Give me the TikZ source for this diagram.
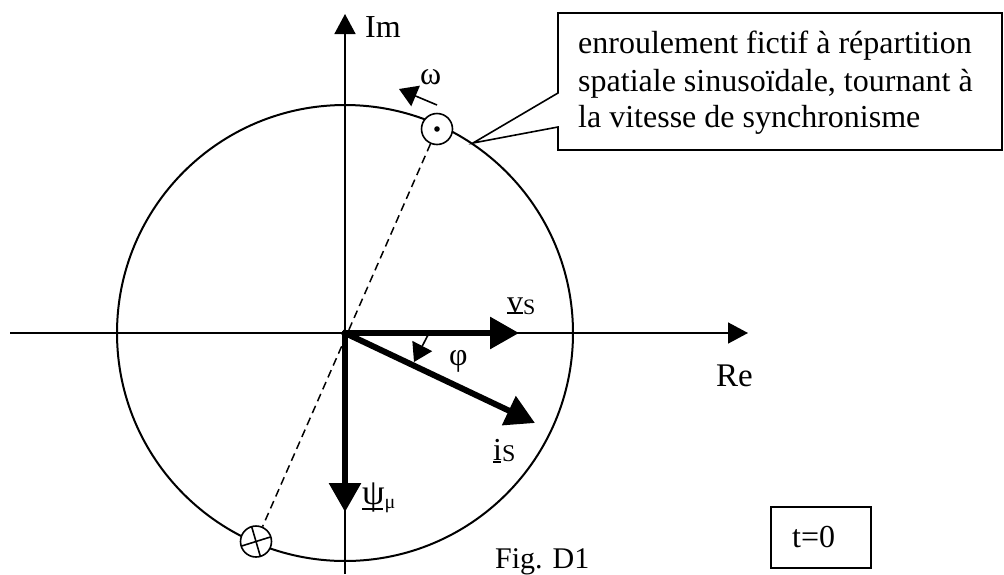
\documentclass[tikz,border=0pt]{standalone}
\usepackage{fontspec}
\setmainfont{Liberation Serif}
\usetikzlibrary{arrows.meta,calc}
\newcommand{\fs}[1]{\fontsize{#1}{#1}\selectfont}
\tikzset{
  x=1pt,y=-1pt,
  line/.style={draw=black,line width=2pt},
  axis/.style={draw=black,line width=1.6pt,-{Triangle[length=20pt,width=21pt]}},
  vec/.style={draw=black,line width=6pt,-{Triangle[length=29pt,width=31pt]},shorten <=-2.5pt},
  small arrow/.style={draw=black,line width=1.6pt,-{Triangle[length=18pt,width=22pt]}},
  lbl/.style={inner sep=0pt,anchor=base west,font=\fs{32}},
  coil/.style={circle,draw=black,line width=1.6pt,fill=white,minimum size=31pt,inner sep=0pt},
  box/.style={draw=black,line width=1.6pt,fill=white}
}
\begin{document}
\begin{tikzpicture}
\useasboundingbox (0,0) rectangle (1004,574);
\coordinate (O) at (345,333);
\coordinate (xl) at (10,333);
\coordinate (xr) at (748,333);
\coordinate (yb) at (345,574);
\coordinate (yt) at (345,14);
\coordinate (vs) at (519,333);
\coordinate (is) at (535,423);
\coordinate (psi) at (345,512);
\coordinate (w1) at (437,105);
\coordinate (w2) at (399,89);
\coordinate (p1) at (428,335);
\coordinate (p2) at (414,362);
\draw[line] (O) circle[radius=228];
\draw[axis] (xl) -- (xr);
\draw[axis] (yb) -- (yt);
\node[coil] (c1) at (437,129) {};
\node[coil] (c2) at (256,541.5) {};
\draw[line width=1.5pt,dash pattern=on 8pt off 5pt] (c1) -- (c2);
\fill (c1.center) circle[radius=2.8];
\draw[line width=1.6pt] ($(c2.center)+(-15,4.7)$) -- ($(c2.center)+(15,-4.7)$);
\draw[line width=1.6pt] ($(c2.center)+(-4.3,-14.7)$) -- ($(c2.center)+(4.3,14.7)$);
\draw[vec] (O) -- (vs);
\draw[vec] (O) -- (is);
\draw[vec] (O) -- (psi);
\draw[small arrow] (w1) -- (w2);
\draw[small arrow] (p1) -- (p2);
% callout
\draw[box] (558,13) -- (558,93) -- (473,143) -- (558,127) -- (558,150) -- (1002,150) -- (1002,13) -- cycle;
\node[lbl] (t1) at (578,53) {enroulement fictif à répartition};
\node[lbl] (t2) at (578,91) {spatiale sinusoïdale, tournant à};
\node[lbl] (t3) at (578,127) {la vitesse de synchronisme};
\node[lbl] (im) at (365,37) {Im};
\node[lbl] (re) at (716,386) {\fs{33}Re};
\node[lbl] (om) at (420,84) {ω};
\node[lbl] (ph) at (449,365) {φ};
\node[lbl] (lv) at (507,312) {\rlap{\rule[-2pt]{16pt}{1.8pt}}v\raisebox{-2pt}{\fs{22}S}};
\node[lbl] (li) at (493,460) {\rlap{\rule[-3pt]{8pt}{1.8pt}}i\raisebox{-1pt}{\fs{24}S}};
\node[lbl] (lp) at (362,504) {\rlap{\rule[-6pt]{21pt}{1.8pt}}{\fs{36}ψ}\raisebox{-4pt}{\fs{20}μ}};
\node[lbl,font=\fs{30}] (fig) at (495,568) {Fig. D1};
\node[draw=black,line width=1.6pt,fill=none,minimum width=100pt,minimum height=61pt,inner sep=0pt] (t0) at (821,537.5) {};
\node[lbl] (t0t) at (792,547) {t=0};
\end{tikzpicture}
\end{document}
